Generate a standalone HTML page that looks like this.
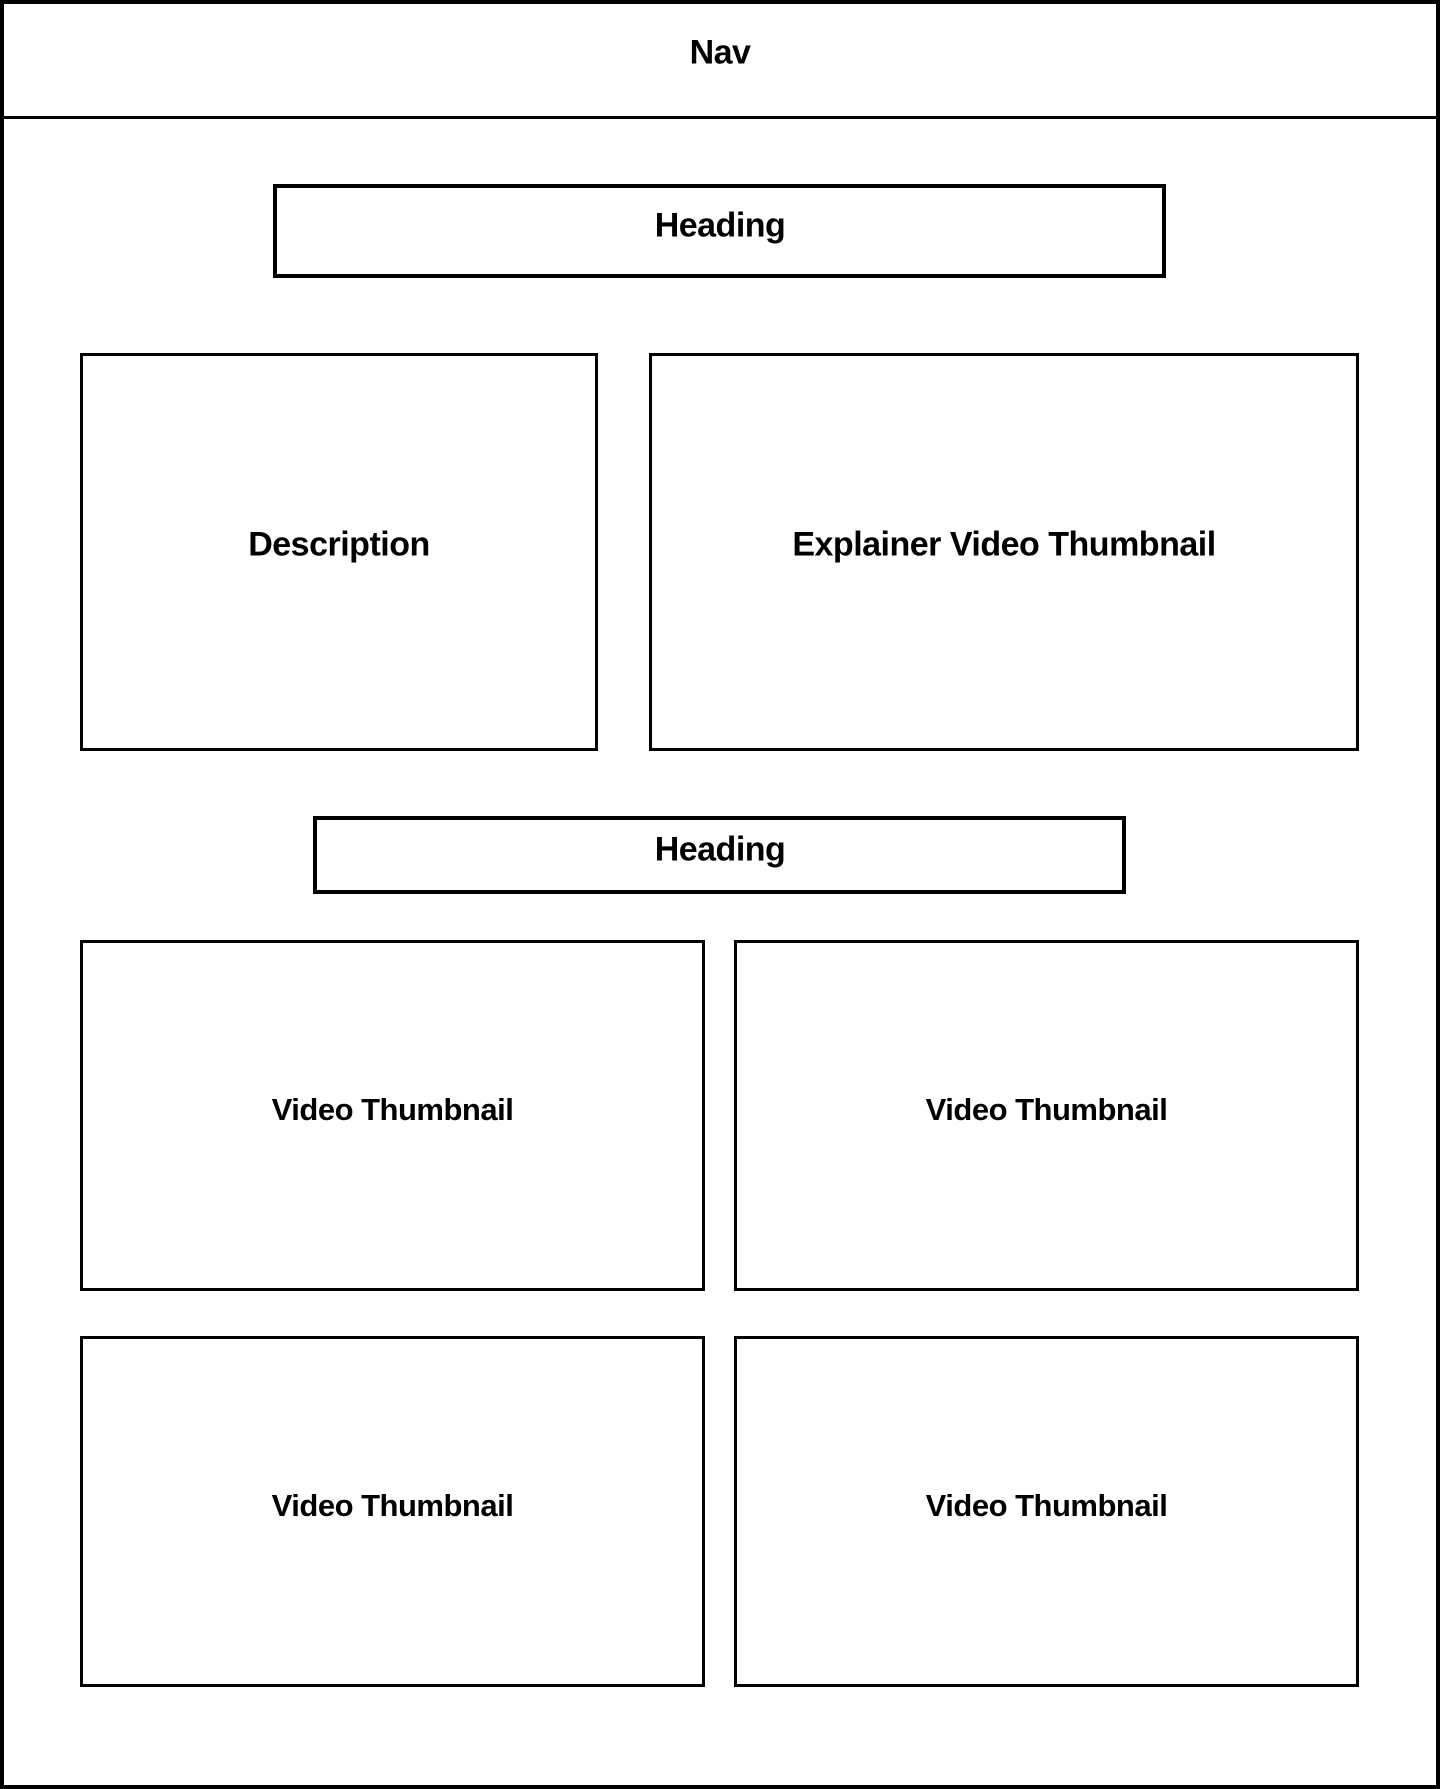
<!DOCTYPE html>
<html><head><meta charset="utf-8"><style>
body{margin:0;width:1440px;height:1789px;background:#fff;position:relative;overflow:hidden;font-family:"Liberation Sans",sans-serif;font-weight:bold;color:#000}
.b{position:absolute;box-sizing:border-box;border:3px solid #000}
.t{position:absolute;left:0;right:0;text-align:center;transform:translateY(-50%);letter-spacing:-0.5px}
</style></head><body>
<div class="b" style="left:0;top:0;width:1440px;height:1789px;border-width:4px"></div>
<div style="position:absolute;left:0;top:116px;width:1440px;height:3px;background:#000"></div>
<div class="t" style="top:53px;font-size:34px">Nav</div>

<div class="b" style="left:273px;top:184px;width:893px;height:94px;border-width:4px"></div>
<div class="t" style="top:226px;font-size:34px">Heading</div>

<div class="b" style="left:80px;top:353px;width:518px;height:398px"></div>
<div class="t" style="left:80px;width:518px;top:545px;font-size:34px">Description</div>
<div class="b" style="left:649px;top:353px;width:710px;height:398px"></div>
<div class="t" style="left:649px;width:710px;top:545px;font-size:34px">Explainer Video Thumbnail</div>

<div class="b" style="left:313px;top:816px;width:813px;height:78px;border-width:4px"></div>
<div class="t" style="top:850px;font-size:34px">Heading</div>

<div class="b" style="left:80px;top:940px;width:625px;height:351px"></div>
<div class="t" style="left:80px;width:625px;right:auto;top:1110px;font-size:31px">Video Thumbnail</div>
<div class="b" style="left:734px;top:940px;width:625px;height:351px"></div>
<div class="t" style="left:734px;width:625px;right:auto;top:1110px;font-size:31px">Video Thumbnail</div>
<div class="b" style="left:80px;top:1336px;width:625px;height:351px"></div>
<div class="t" style="left:80px;width:625px;right:auto;top:1506px;font-size:31px">Video Thumbnail</div>
<div class="b" style="left:734px;top:1336px;width:625px;height:351px"></div>
<div class="t" style="left:734px;width:625px;right:auto;top:1506px;font-size:31px">Video Thumbnail</div>
</body></html>
